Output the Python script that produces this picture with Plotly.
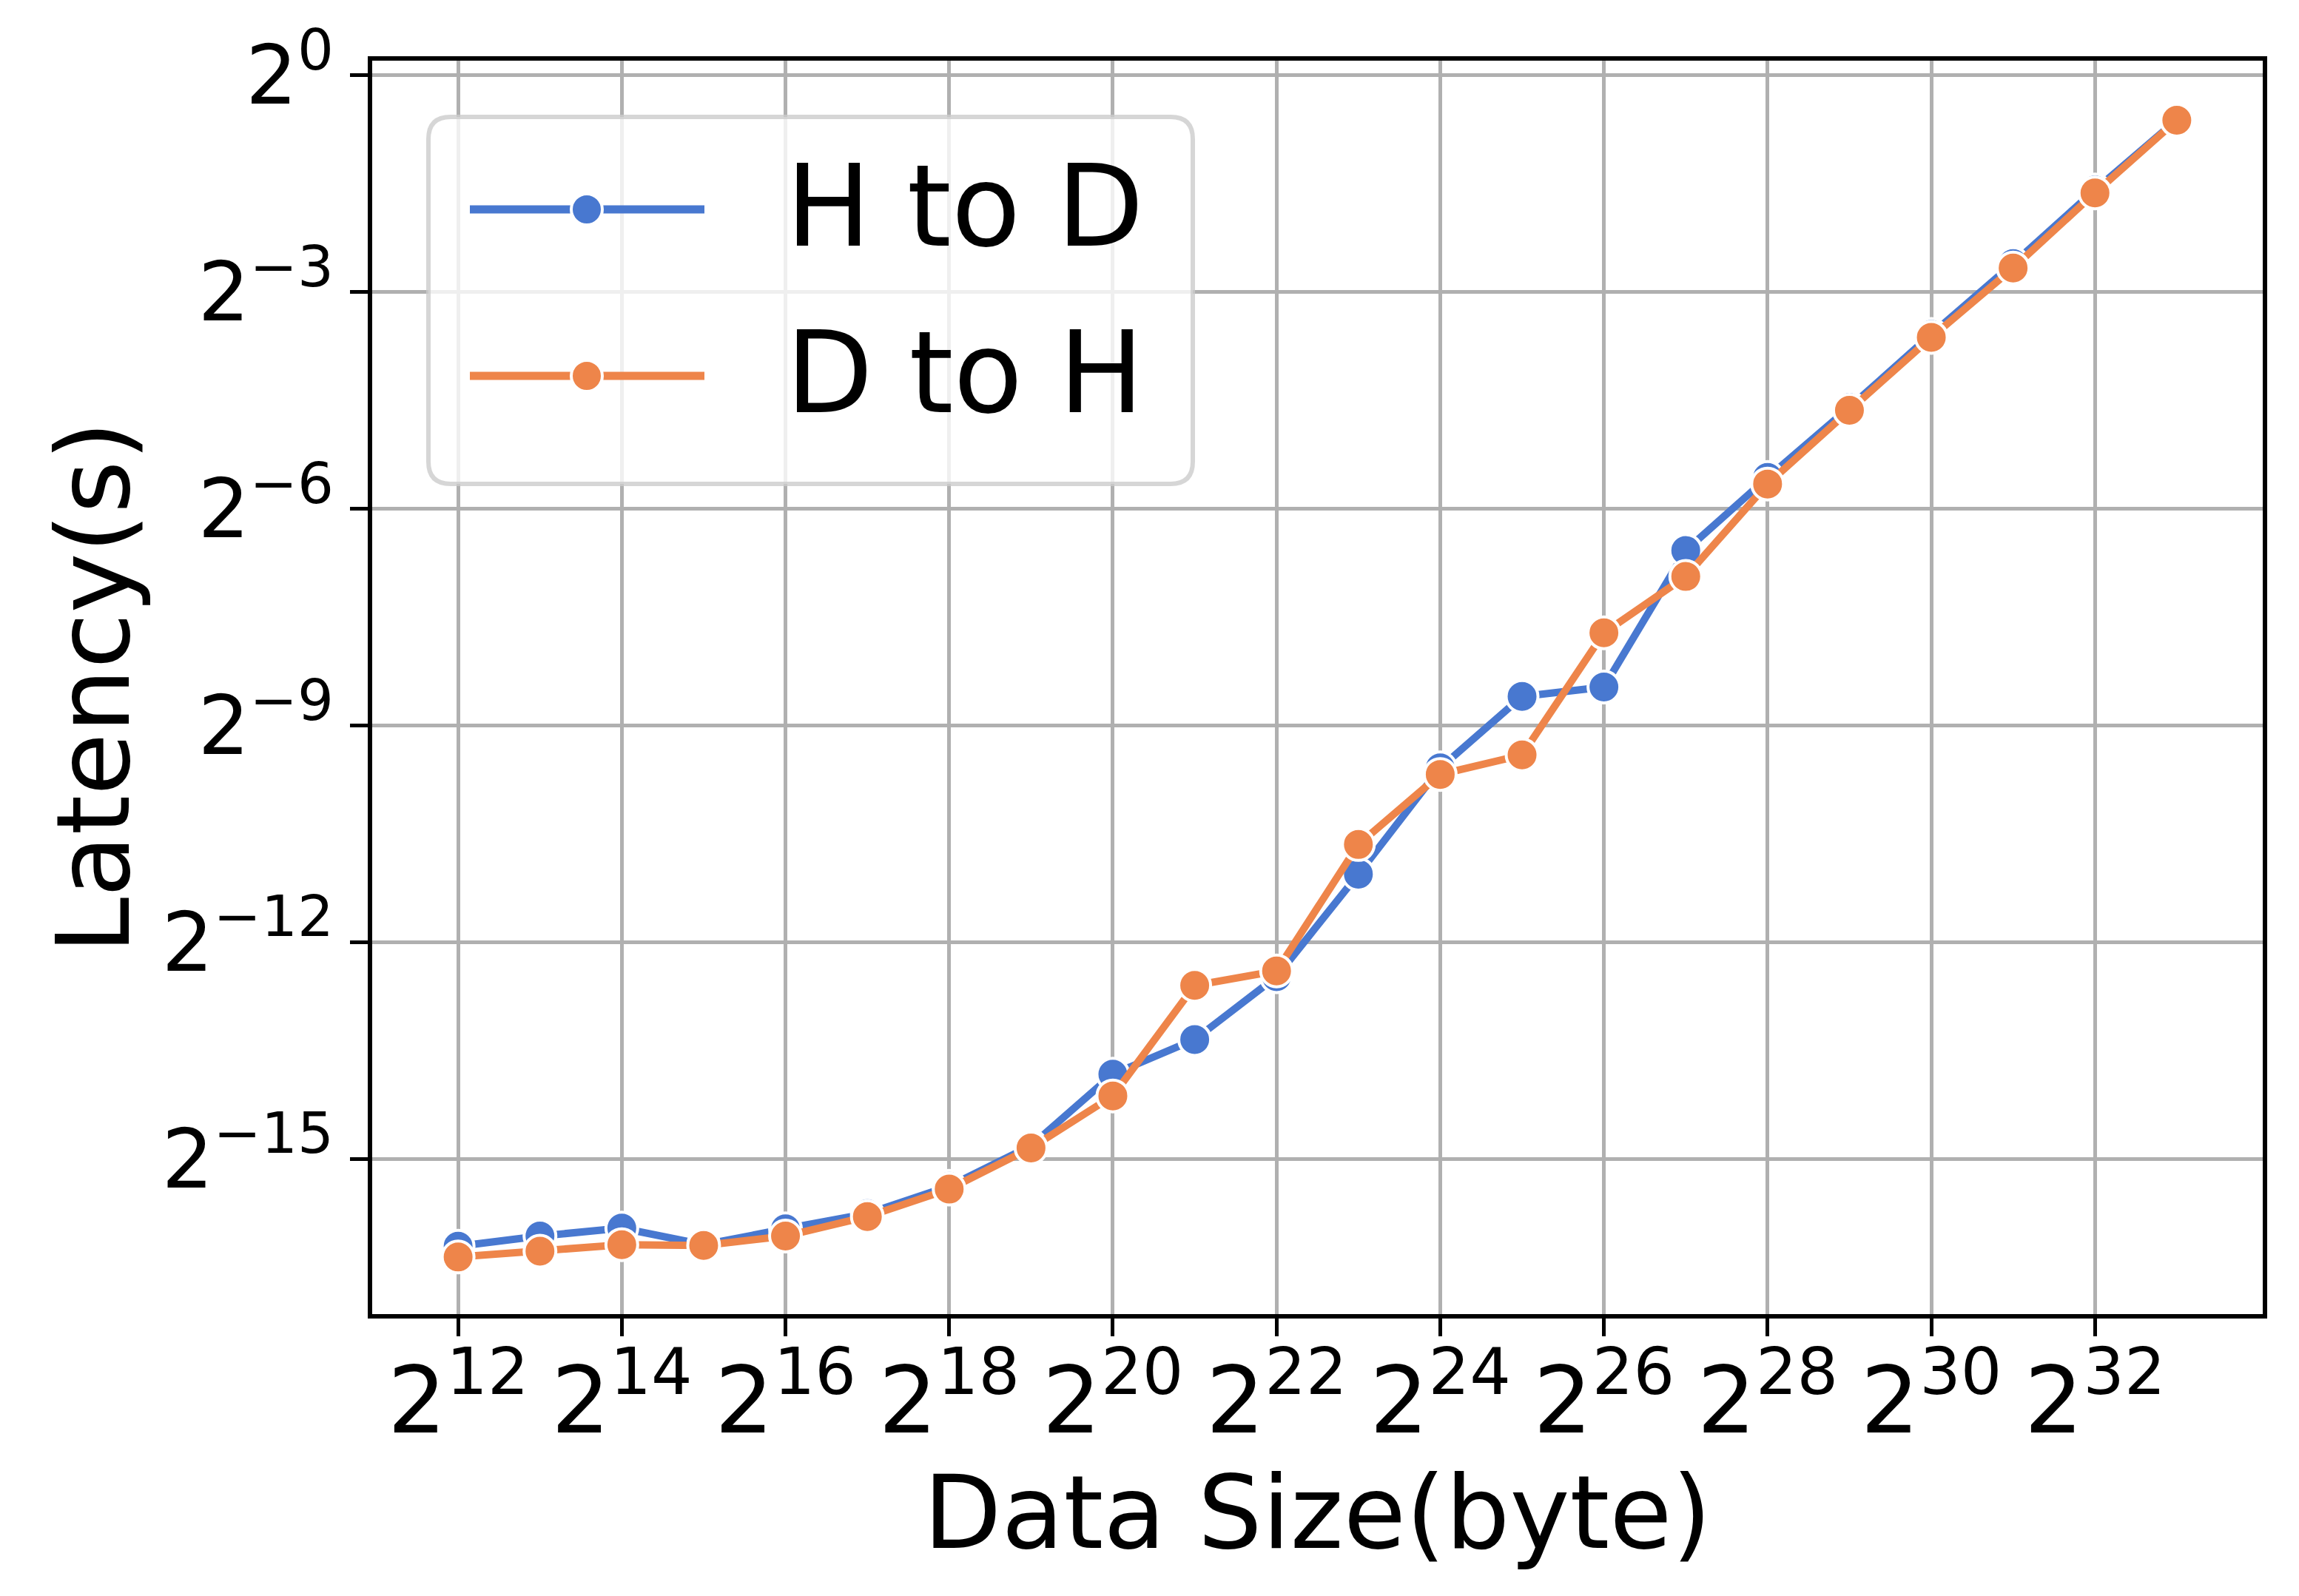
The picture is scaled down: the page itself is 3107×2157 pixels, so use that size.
import math
import plotly.graph_objects as go

# ---------------- data ----------------
data_size_bytes = [4096, 8192, 16384, 32768, 65536, 131072, 262144, 524288,
                   1048576, 2097152, 4194304, 8388608, 16777216, 33554432,
                   67108864, 134217728, 268435456, 536870912, 1073741824,
                   2147483648, 4294967296, 8589934592]

h_to_d_latency_s = [1.319e-5, 1.454e-5, 1.569e-5, 1.338e-5, 1.558e-5, 1.802e-5,
                    2.345e-5, 3.457e-5, 6.867e-5, 9.578e-5, 1.7505e-4, 4.684e-4,
                    1.2976e-3, 2.577e-3, 2.820e-3, 1.0452e-2, 2.105e-2, 4.123e-2,
                    8.304e-2, 0.1638, 0.3322, 0.6507]

d_to_h_latency_s = [1.189e-5, 1.2566e-5, 1.338e-5, 1.3284e-5, 1.4536e-5, 1.7528e-5,
                    2.281e-5, 3.386e-5, 5.577e-5, 1.6107e-4, 1.8502e-4, 6.224e-4,
                    1.2190e-3, 1.4699e-3, 4.743e-3, 8.145e-3, 1.9778e-2, 4.011e-2,
                    8.078e-2, 0.1571, 0.3231, 0.6484]

series_names = ["H to D", "D to H"]
series_colors = ["#4878d0", "#ee854a"]

x_tick_exponents = [12, 14, 16, 18, 20, 22, 24, 26, 28, 30, 32]
y_tick_exponents = [0, -3, -6, -9, -12, -15]

x_title = "Data Size(byte)"
y_title = "Latency(s)"

# ---------------- figure ----------------
W, H = 3107, 2157
L2 = math.log10(2)
FONT = "DejaVu Sans"

fig = go.Figure()
for name, ys, col in zip(series_names, [h_to_d_latency_s, d_to_h_latency_s], series_colors):
    fig.add_trace(go.Scatter(
        x=data_size_bytes, y=ys, name=name, mode="lines+markers",
        line=dict(color=col, width=10),
        marker=dict(color=col, size=43, line=dict(color="white", width=4)),
        showlegend=False,
    ))

axis_common = dict(
    type="log", showgrid=True, gridcolor="#b0b0b0", gridwidth=5,
    zeroline=False, showline=True, linecolor="black", linewidth=6, mirror=True,
    ticks="outside", ticklen=24, tickwidth=5, tickcolor="black",
)

fig.update_xaxes(
    **axis_common,
    range=[10.95 * L2, 34.05 * L2],
    tickvals=[2.0 ** e for e in x_tick_exponents],
    ticktext=[f"2<sup>{e}</sup>" for e in x_tick_exponents],
    tickfont=dict(family=FONT, size=125, color="black"),
    ticklabelstandoff=-20,
    title=dict(text=x_title, font=dict(family=FONT, size=137, color="black"), standoff=18),
)
fig.update_yaxes(
    **axis_common,
    range=[-17.15 * L2, 0.2 * L2],
    tickvals=[2.0 ** e for e in y_tick_exponents],
    ticktext=[f"2<sup>{'−' if e < 0 else ''}{abs(e)}</sup>" for e in y_tick_exponents],
    tickfont=dict(family=FONT, size=110, color="black"),
    title=dict(text=y_title, font=dict(family=FONT, size=137, color="black"), standoff=0),
)

# ---------------- legend (drawn in paper coordinates) ----------------
PL, PR, PT, PB = 495, 3050, 74, 1768


def px_x(p):
    return (p - PL) / (PR - PL)


def px_y(p):
    return (PB - p) / (PB - PT)


def rounded_rect(x0, y0, x1, y1, rx, ry):
    return (f"M{x0 + rx},{y0} L{x1 - rx},{y0} Q{x1},{y0} {x1},{y0 + ry} "
            f"L{x1},{y1 - ry} Q{x1},{y1} {x1 - rx},{y1} L{x0 + rx},{y1} "
            f"Q{x0},{y1} {x0},{y1 - ry} L{x0},{y0 + ry} Q{x0},{y0} {x0 + rx},{y0} Z")


shapes = [dict(
    type="path", xref="paper", yref="paper",
    path=rounded_rect(px_x(571), px_y(646), px_x(1604), px_y(150),
                      30 / (PR - PL), 30 / (PB - PT)),
    fillcolor="rgba(255,255,255,0.8)", line=dict(color="rgba(204,204,204,0.8)", width=6),
)]
annotations = []
for i, (name, col) in enumerate(zip(series_names, series_colors)):
    yy = px_y(275 + i * 225)
    shapes.append(dict(type="line", xref="paper", yref="paper",
                       x0=px_x(627), x1=px_x(944), y0=yy, y1=yy,
                       line=dict(color=col, width=11)))
    shapes.append(dict(type="circle", xref="paper", yref="paper",
                       xsizemode="pixel", ysizemode="pixel",
                       xanchor=px_x(785), yanchor=yy,
                       x0=-21, x1=21, y0=-21, y1=21,
                       fillcolor=col, line=dict(color="white", width=4)))
    annotations.append(dict(x=px_x(1052), y=yy + 4 / (PB - PT), xref="paper", yref="paper",
                            xanchor="left", yanchor="middle", showarrow=False,
                            text=name, font=dict(family=FONT, size=153, color="black")))

fig.update_layout(
    width=W, height=H,
    margin=dict(l=PL, r=W - PR, t=PT, b=H - PB, autoexpand=False),
    paper_bgcolor="white", plot_bgcolor="white",
    font=dict(family=FONT, color="black"),
    shapes=shapes, annotations=annotations,
    showlegend=False,
)

fig.write_html("out.html")
